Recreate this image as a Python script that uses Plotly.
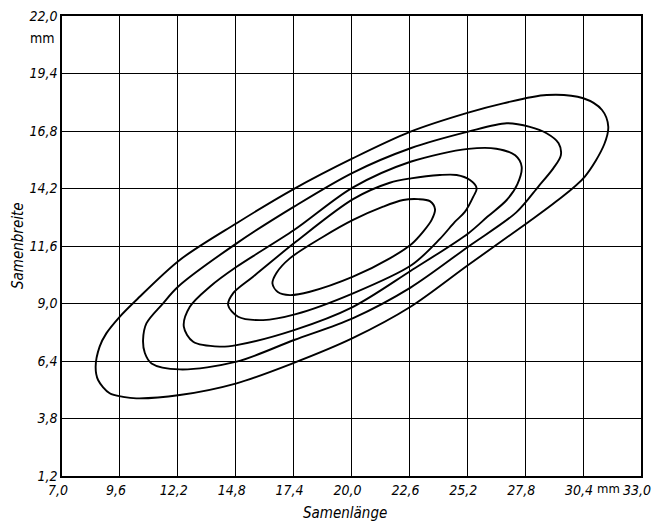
import plotly.graph_objects as go

# Tick positions and labels
x_ticks = [7.0, 9.6, 12.2, 14.8, 17.4, 20.0, 22.6, 25.2, 27.8, 30.4, 33.0]
x_ticklabels = ["7,0", "9,6", "12,2", "14,8", "17,4", "20,0", "22,6", "25,2", "27,8", "30,4", "33,0"]
y_ticks = [1.2, 3.8, 6.4, 9.0, 11.6, 14.2, 16.8, 19.4, 22.0]
y_ticklabels = ["1,2", "3,8", "6,4", "9,0", "11,6", "14,2", "16,8", "19,4", "22,0"]

# Contour lines (Samenlänge, Samenbreite), outermost first
c5_x = [8.51, 8.69, 8.99, 9.59, 10.34, 12.29, 14.84, 17.38, 20.07, 22.65, 25.24, 26.81, 28.76, 30.41,
        31.25, 31.53, 31.35, 30.47, 29.20, 27.87, 25.24, 22.65, 20.05, 17.38, 14.84, 12.29,
        10.34, 9.74, 9.14, 8.62]
c5_y = [6.14, 7.05, 7.65, 8.40, 9.16, 10.97, 12.63, 14.16, 15.57, 16.77, 17.63, 18.05, 18.43, 18.28,
        17.75, 17.00, 16.20, 14.73, 13.62, 12.63, 10.74, 8.85, 7.43, 6.30, 5.39, 4.86,
        4.71, 4.78, 4.94, 5.54]

c4_x = [10.64, 10.79, 11.54, 12.21, 14.84, 17.42, 20.05, 22.65, 25.24, 26.97, 28.01, 28.76, 29.30,
        29.40, 29.06, 28.40, 27.40, 25.24, 22.65, 20.05, 17.42, 14.84, 12.29, 11.02, 10.72]
c4_y = [7.35, 8.10, 9.01, 9.76, 11.72, 13.38, 14.91, 16.02, 16.77, 17.15, 16.99, 16.70, 16.25,
        15.70, 15.11, 14.30, 13.12, 11.57, 9.72, 8.33, 7.35, 6.37, 6.02, 6.29, 6.76]

c3_x = [12.47, 12.74, 13.64, 14.84, 17.42, 20.05, 22.65, 25.24, 26.50, 27.35, 27.64, 27.45, 26.97,
        26.10, 25.24, 22.65, 20.05, 17.42, 14.84, 14.09, 12.89]
c3_y = [7.95, 8.85, 9.76, 10.66, 12.32, 14.24, 15.41, 15.99, 16.00, 15.70, 15.19, 14.40, 13.68,
        12.92, 12.17, 10.47, 8.84, 7.80, 7.12, 7.05, 7.27]

c2_x = [14.46, 14.68, 15.58, 17.50, 20.07, 21.72, 22.67, 23.97, 24.72, 25.32, 25.62, 25.47, 25.09,
        24.64, 23.97, 22.70, 20.07, 17.50, 16.03, 14.91]
c2_y = [8.93, 9.46, 10.21, 11.79, 13.72, 14.46, 14.66, 14.81, 14.81, 14.58, 14.21, 13.83, 13.14,
        12.69, 11.92, 10.74, 9.46, 8.52, 8.25, 8.40]

c1_x = [16.45, 16.63, 17.23, 18.73, 20.07, 21.42, 22.32, 23.00, 23.52, 23.75, 23.60, 23.22, 22.70, 21.72,
        20.07, 18.13, 17.23, 16.69]
c1_y = [9.91, 10.38, 11.04, 12.02, 12.78, 13.38, 13.68, 13.72, 13.63, 13.27, 12.78, 12.25, 11.69, 11.04,
        10.21, 9.53, 9.38, 9.52]

contours = [(c5_x, c5_y), (c4_x, c4_y), (c3_x, c3_y), (c2_x, c2_y), (c1_x, c1_y)]

FONT = "Liberation Sans Narrow, DejaVu Sans Condensed, Arial Narrow, sans-serif"

fig = go.Figure()
for cx, cy in contours:
    fig.add_trace(go.Scatter(
        x=cx + cx[:1], y=cy + cy[:1], mode="lines",
        line=dict(color="black", width=1.9, shape="spline", smoothing=0.9),
        hoverinfo="skip", showlegend=False,
    ))

axis_common = dict(
    showgrid=True, gridcolor="black", gridwidth=1,
    showline=True, linecolor="black", linewidth=1.5, mirror=True,
    zeroline=False, ticks="", automargin=False, ticklabeloverflow="allow",
    tickfont=dict(family=FONT, size=14, color="black", style="italic"),
)

fig.update_layout(
    width=655, height=524,
    margin=dict(l=62, r=14, t=16, b=48, autoexpand=False),
    paper_bgcolor="white", plot_bgcolor="white",
    xaxis=dict(range=[7.0, 33.0], tickmode="array", tickvals=x_ticks, ticktext=x_ticklabels,
               ticklabelshift=-4, **axis_common),
    yaxis=dict(range=[1.2, 22.0], tickmode="array", tickvals=y_ticks, ticktext=y_ticklabels, **axis_common),
    annotations=[
        dict(text="mm", xref="paper", yref="paper", x=-0.033, y=0.952, xanchor="center", yanchor="middle",
             showarrow=False, font=dict(family=FONT, size=14, color="black")),
        dict(text="mm", xref="x", yref="paper", x=31.55, y=0, xanchor="center", yanchor="top", yshift=-3,
             showarrow=False, font=dict(family=FONT, size=13, color="black")),
        dict(text="Samenlänge", xref="paper", yref="paper", x=0.488, y=-0.080, xanchor="center",
             yanchor="middle", showarrow=False,
             font=dict(family=FONT, size=15, color="black", style="italic")),
        dict(text="Samenbreite", xref="paper", yref="paper", x=-0.076, y=0.502, xanchor="center",
             yanchor="middle", textangle=-90, showarrow=False,
             font=dict(family=FONT, size=15, color="black", style="italic")),
    ],
)

fig.write_html("out.html", config={"displayModeBar": False},
               post_script="document.body.style.margin='0';")
